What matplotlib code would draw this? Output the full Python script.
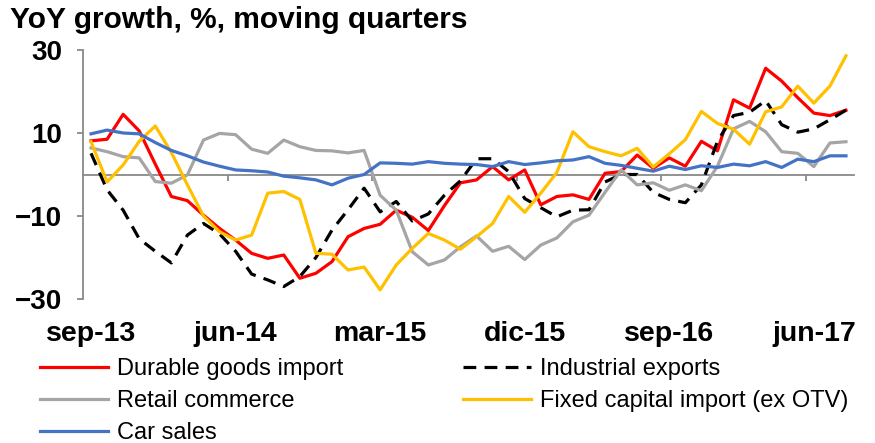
import matplotlib
matplotlib.use("Agg")
import matplotlib.pyplot as plt

plt.rcParams["font.family"] = ["Liberation Sans", "DejaVu Sans"]

# monthly points, sep-13 .. aug-17
tick_labels = ["sep-13", "jun-14", "mar-15", "dic-15", "sep-16", "jun-17"]

durable = [8.1, 8.5, 14.5, 10.5, 2.5, -5.3, -6.3, -9.8, -13.0, -15.8,
           -19.0, -20.2, -19.4, -25.0, -23.8, -21.0, -15.0, -13.0, -12.0, -8.6,
           -10.3, -13.5, -7.5, -2.0, -1.3, 1.9, -1.3, 1.1, -7.3, -5.3,
           -4.9, -6.0, 0.3, 0.7, 4.7, 1.5, 4.0, 2.0, 8.0, 5.7,
           18.0, 16.0, 25.6, 22.5, 18.5, 14.8, 14.2, 15.5]
industrial = [5.1, -3.7, -8.6, -15.5, -18.5, -21.3, -14.6, -11.8, -14.3, -18.5,
              -24.0, -25.4, -27.0, -24.6, -20.0, -13.4, -8.5, -3.3, -9.0, -6.5,
              -11.2, -9.5, -5.0, -1.5, 3.8, 3.8, 0.7, -5.8, -8.0, -10.2,
              -8.6, -8.5, -1.8, 0.0, 0.0, -4.3, -6.0, -6.8, -2.5, 8.0,
              14.2, 15.0, 17.8, 12.0, 10.2, 11.0, 13.2, 15.5]
retail = [6.4, 5.5, 4.3, 4.0, -1.7, -2.1, -0.1, 8.3, 9.9, 9.6,
          6.1, 5.1, 8.3, 6.7, 5.8, 5.7, 5.2, 5.8, -5.0, -8.6,
          -18.6, -21.8, -20.6, -17.4, -14.8, -18.5, -17.3, -20.5, -17.0, -15.3,
          -11.4, -9.8, -4.3, 1.1, -2.5, -2.0, -3.8, -2.5, -3.9, 2.0,
          11.0, 12.8, 10.3, 5.5, 5.1, 1.9, 7.6, 7.9]
fixed_capital = [7.9, -1.8, 2.3, 8.0, 11.7, 5.3, -2.5, -10.0, -13.8, -15.8,
                 -14.6, -4.5, -4.1, -6.0, -19.0, -19.2, -23.0, -22.3, -27.8, -21.8,
                 -17.8, -14.2, -15.8, -18.0, -15.0, -11.8, -5.3, -9.1, -4.5, 0.5,
                 10.3, 6.7, 5.5, 4.5, 6.3, 1.8, 5.0, 8.4, 15.2, 12.3,
                 10.9, 7.3, 15.1, 16.3, 21.3, 17.2, 21.3, 28.6]
car_sales = [9.8, 10.7, 10.0, 9.8, 7.7, 5.8, 4.5, 3.0, 2.0, 1.1,
             0.9, 0.6, -0.4, -0.8, -1.3, -2.5, -0.9, 0.0, 2.8, 2.7,
             2.5, 3.1, 2.7, 2.5, 2.4, 1.9, 3.1, 2.4, 2.8, 3.3,
             3.5, 4.3, 2.7, 2.2, 1.5, 0.8, 2.0, 1.2, 2.1, 1.7,
             2.5, 2.1, 3.1, 1.7, 3.7, 3.1, 4.5, 4.5]

x = list(range(len(durable)))
axis_grey = "#898989"

fig = plt.figure(figsize=(8.75, 4.43), dpi=100)
ax = fig.add_axes([83 / 875, 1 - 299 / 443, 771 / 875, 249 / 443])

lw = 2.3
ax.plot(x, durable, color="#FF0000", lw=lw, solid_joinstyle="round")
ax.plot(x, industrial, color="black", lw=lw, dashes=(4, 2.6))
ax.plot(x, retail, color="#A5A5A5", lw=lw)
ax.plot(x, fixed_capital, color="#FFC000", lw=lw)
ax.plot(x, car_sales, color="#4472C4", lw=lw)

ax.set_xlim(-0.5, len(x) - 0.5)
ax.set_ylim(-30, 30)
ax.set_yticks([-30, -10, 10, 30])
ax.set_xticks(range(0, len(x), 9), tick_labels)

for s in ["top", "right", "bottom"]:
    ax.spines[s].set_visible(False)
ax.spines["left"].set_color(axis_grey)
ax.spines["left"].set_linewidth(1.3)
ax.tick_params(axis="y", direction="out", length=4, width=1.3, color=axis_grey,
               pad=11, labelsize=20)
ax.tick_params(axis="x", length=0, pad=16, labelsize=20.5)
for t in ax.get_xticklabels() + ax.get_yticklabels():
    t.set_fontweight("bold")

# zero line with category ticks
zero = ax.secondary_xaxis(0, transform=ax.transData)
zero.set_xticks([i + 8.5 for i in range(0, len(x) - 9, 9)], [])
zero.spines["bottom"].set_color(axis_grey)
zero.spines["bottom"].set_linewidth(1.3)
zero.tick_params(direction="out", length=4, width=1.3, color=axis_grey)

fig.text(10 / 875, 1 - 6 / 443, "YoY growth, %, moving quarters", fontsize=21.5,
         fontweight="bold", va="top", ha="left")

names = ["Durable goods import", "Industrial exports", "Retail commerce",
         "Fixed capital import (ex OTV)", "Car sales"]
lines = ax.get_lines()
leg_kw = dict(loc="upper left", frameon=False, fontsize=17, handlelength=2.9,
              handletextpad=0.35, labelspacing=0.42, borderpad=0, borderaxespad=0)
fig.legend([lines[0], lines[2], lines[4]], [names[0], names[2], names[4]],
           bbox_to_anchor=(40 / 875, 1 - 358 / 443), **leg_kw)
fig.legend([lines[1], lines[3]], [names[1], names[3]],
           bbox_to_anchor=(463 / 875, 1 - 358 / 443), **leg_kw)

fig.savefig("out.png", dpi=100)
